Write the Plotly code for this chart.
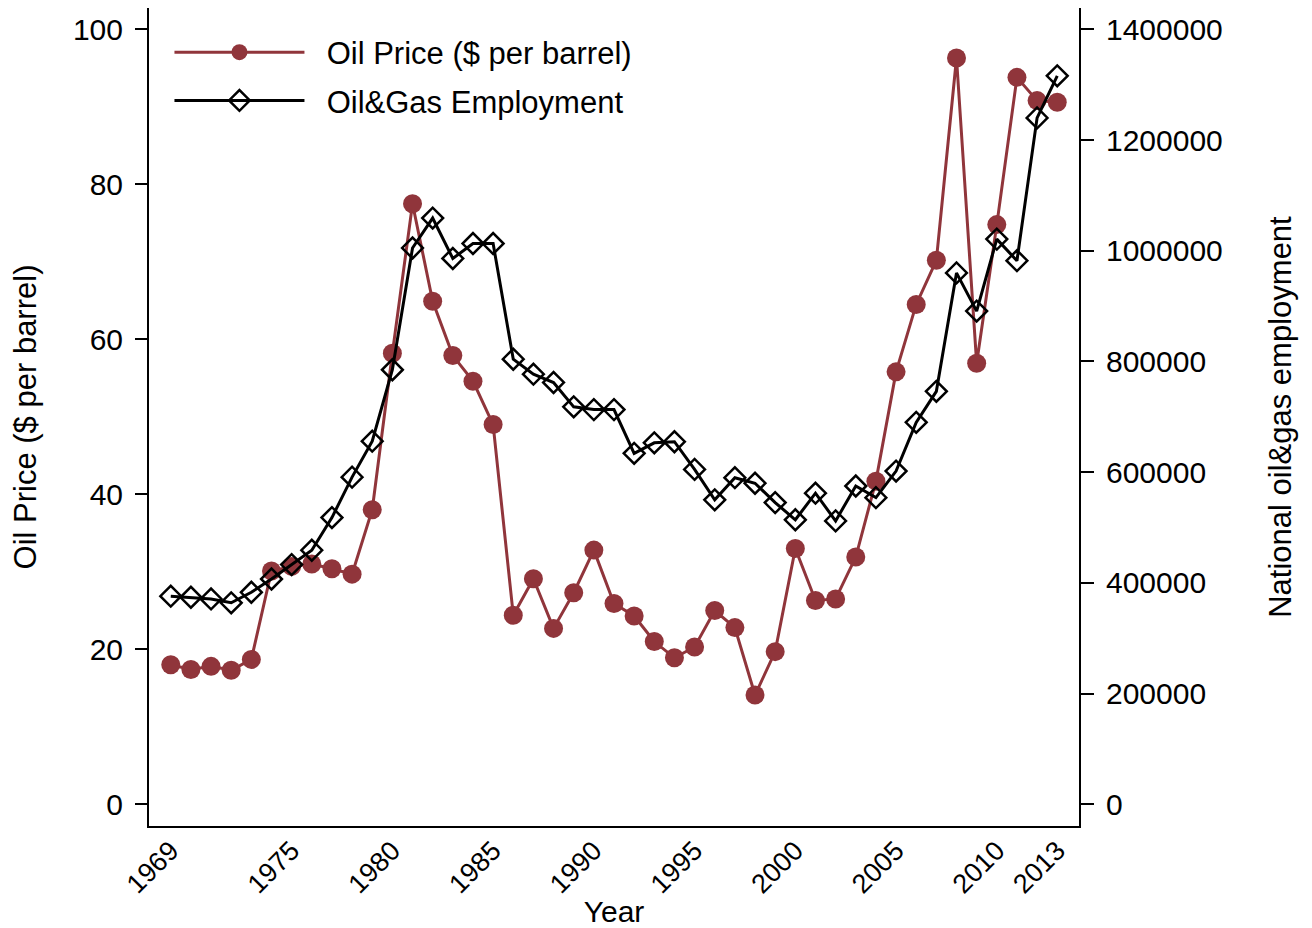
import plotly.graph_objects as go

years = list(range(1969, 2014))
oil_price = [18.0, 17.4, 17.8, 17.3, 18.7, 30.1, 30.7, 31.0, 30.4, 29.7,
             38.0, 58.2, 77.5, 64.9, 57.9, 54.6, 49.0, 24.4, 29.1, 22.7,
             27.3, 32.8, 25.9, 24.3, 21.0, 18.9, 20.3, 25.0, 22.8, 14.1,
             19.7, 33.0, 26.3, 26.5, 31.9, 41.7, 55.8, 64.5, 70.2, 96.3,
             56.9, 74.8, 93.8, 90.8, 90.6]
employment = [376000, 374000, 371000, 364000, 383000, 407000, 433000, 459000, 518000, 591000,
              656000, 785000, 1005000, 1059000, 986000, 1013000, 1013000, 804000, 777000, 762000,
              718000, 713000, 713000, 634000, 653000, 655000, 605000, 550000, 590000, 580000,
              545000, 514000, 562000, 512000, 575000, 554000, 602000, 690000, 746000, 960000,
              891000, 1021000, 982000, 1240000, 1316000]
xtick_vals = [1969, 1975, 1980, 1985, 1990, 1995, 2000, 2005, 2010, 2013]
left_ticks = [0, 20, 40, 60, 80, 100]
right_ticks = [0, 200000, 400000, 600000, 800000, 1000000, 1200000, 1400000]

FONT = "Liberation Sans, Arial, sans-serif"
MAROON = "#90353B"
SP = "\u00a0\u00a0"

fig = go.Figure()
fig.add_trace(go.Scatter(
    x=years, y=oil_price, name=SP + "Oil Price ($ per barrel)", mode="lines+markers",
    line=dict(color=MAROON, width=3),
    marker=dict(symbol="circle", size=19, color=MAROON),
    legendgroup="a", yaxis="y"))
fig.add_trace(go.Scatter(
    x=years, y=employment, name=SP + "Oil&Gas Employment", mode="lines+markers",
    line=dict(color="black", width=3),
    marker=dict(symbol="diamond-open", size=16, color="black", line=dict(width=2.5, color="black")),
    legendgroup="b", yaxis="y2"))

# page has an 8px body margin, so the figure is sized/margined to compensate
fig.update_layout(
    width=1304, height=920,
    margin=dict(l=141, r=233, t=0, b=102, autoexpand=False),
    paper_bgcolor="white", plot_bgcolor="white",
    font=dict(family=FONT, size=30, color="black"),
    showlegend=True,
    legend=dict(x=0.022, y=0.9786, xanchor="left", yanchor="top",
                bgcolor="rgba(0,0,0,0)", font=dict(size=31),
                itemwidth=130, tracegroupgap=5, traceorder="grouped"),
    xaxis=dict(range=[1967.92, 2014.08], tickvals=xtick_vals, ticktext=[str(v) for v in xtick_vals],
               tickangle=-45, ticks="", showline=True, linecolor="black", linewidth=2,
               showgrid=False, zeroline=False, tickfont=dict(size=27), automargin=False,
               ticklabelstandoff=-4,
               title=dict(text="Year", font=dict(size=30), standoff=4)),
    yaxis=dict(range=[-2.8, 102.75], tickvals=left_ticks, ticks="outside", ticklen=12, tickwidth=2,
               tickcolor="black", showline=True, linecolor="black", linewidth=2,
               showgrid=False, zeroline=False, tickfont=dict(size=30), ticklabelstandoff=6,
               automargin=False,
               title=dict(text="Oil Price ($ per barrel)", font=dict(size=31), standoff=30)),
    yaxis2=dict(range=[-39200, 1438500], tickvals=right_ticks, tickformat="d",
                ticks="outside", ticklen=13, tickwidth=2,
                tickcolor="black", showline=True, linecolor="black", linewidth=2,
                overlaying="y", side="right", showgrid=False, zeroline=False,
                tickfont=dict(size=30), ticklabelstandoff=6, automargin=False,
                title=dict(text="National oil&gas employment", font=dict(size=31), standoff=48)),
)

fig.write_html("out.html")
